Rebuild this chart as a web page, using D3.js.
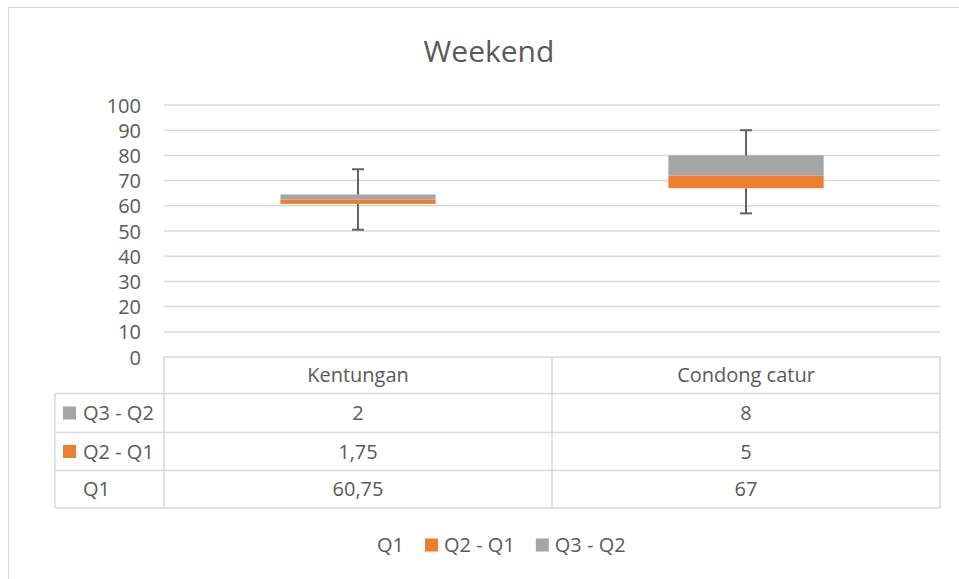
<!DOCTYPE html>
<html>
<head>
<meta charset="utf-8">
<script src="https://cdn.jsdelivr.net/npm/d3@7"></script>
<style>
  html, body { margin: 0; padding: 0; background: #fff; }
  svg { display: block; font-family: "Open Sans", sans-serif; }
</style>
</head>
<body>
<svg id="chart" width="959" height="579"></svg>
<script>
// Box plot built as stacked columns: Q1 (hidden), Q2 - Q1, Q3 - Q2
const categories = ["Kentungan", "Condong catur"];
const q1 = [60.75, 67];
const q2MinusQ1 = [1.75, 5];
const q3MinusQ2 = [2, 8];
const minimum = [50.5, 57];
const maximum = [74.5, 90];
const yTicks = [0, 10, 20, 30, 40, 50, 60, 70, 80, 90, 100];
const seriesNames = ["Q1", "Q2 - Q1", "Q3 - Q2"];
const seriesColors = { "Q1": "none", "Q2 - Q1": "#ED7D31", "Q3 - Q2": "#A5A5A5" };

const fmt = v => String(v).replace(".", ",");

const svg = d3.select("#chart");
const textColor = "#595959";
const lineColor = "#D9D9D9";
const fontSize = 20;

// chart frame
svg.append("rect")
  .attr("x", 8.5).attr("y", 7.5)
  .attr("width", 980).attr("height", 600)
  .attr("fill", "#fff").attr("stroke", lineColor).attr("stroke-width", 1);

// title
svg.append("text")
  .attr("x", 489).attr("y", 62)
  .attr("text-anchor", "middle")
  .attr("font-size", 30)
  .attr("fill", textColor)
  .text("Weekend");

const plotLeft = 164, plotRight = 940, plotTop = 105, plotBottom = 357;

const x = d3.scaleBand().domain(categories).range([plotLeft, plotRight]).padding(0);
const y = d3.scaleLinear().domain([0, 100]).range([plotBottom, plotTop]);

// gridlines
svg.append("g").selectAll("line")
  .data(yTicks.filter(t => t > 0))
  .join("line")
  .attr("x1", plotLeft).attr("x2", plotRight)
  .attr("y1", d => y(d)).attr("y2", d => y(d))
  .attr("stroke", lineColor).attr("stroke-width", 1.5);

// y axis labels
const yAxis = d3.axisLeft(y).tickValues(yTicks).tickSize(0).tickPadding(0);
const yg = svg.append("g").attr("transform", `translate(141,0)`).call(yAxis);
yg.select(".domain").remove();
yg.selectAll("text")
  .attr("font-family", "Open Sans, sans-serif")
  .attr("font-size", fontSize)
  .attr("fill", textColor)
  .attr("dy", "0.35em");

// stacked series
const rows = categories.map((c, i) => ({
  cat: c, "Q1": q1[i], "Q2 - Q1": q2MinusQ1[i], "Q3 - Q2": q3MinusQ2[i],
  min: minimum[i], max: maximum[i]
}));
const stack = d3.stack().keys(seriesNames)(rows);
const barW = x.bandwidth() * 0.4;

svg.append("g").selectAll("g")
  .data(stack.filter(s => seriesColors[s.key] !== "none"))
  .join("g")
  .attr("fill", s => seriesColors[s.key])
  .selectAll("rect")
  .data(s => s)
  .join("rect")
  .attr("x", d => x(d.data.cat) + (x.bandwidth() - barW) / 2)
  .attr("width", barW)
  .attr("y", d => y(d[1]))
  .attr("height", d => y(d[0]) - y(d[1]));

// whiskers (error bars to min and max)
const whiskerColor = "#636363";
const capW = 12;
const wg = svg.append("g").attr("stroke", whiskerColor).attr("stroke-width", 2);
rows.forEach(r => {
  const cx = x(r.cat) + x.bandwidth() / 2;
  const lowTop = r["Q1"];
  const highBase = r["Q1"] + r["Q2 - Q1"] + r["Q3 - Q2"];
  wg.append("line").attr("x1", cx).attr("x2", cx).attr("y1", y(r.min)).attr("y2", y(lowTop));
  wg.append("line").attr("x1", cx).attr("x2", cx).attr("y1", y(highBase)).attr("y2", y(r.max));
  wg.append("line").attr("x1", cx - capW / 2).attr("x2", cx + capW / 2).attr("y1", y(r.min)).attr("y2", y(r.min));
  wg.append("line").attr("x1", cx - capW / 2).attr("x2", cx + capW / 2).attr("y1", y(r.max)).attr("y2", y(r.max));
});

// data table
const tableLeft = 55;
const rowEdges = [357, 393.5, 432.5, 470.5, 508];
const tableRows = [
  { name: "Q3 - Q2", values: q3MinusQ2 },
  { name: "Q2 - Q1", values: q2MinusQ1 },
  { name: "Q1", values: q1 }
];
const tg = svg.append("g");
const tl = (x1, y1, x2, y2) => tg.append("line")
  .attr("x1", x1).attr("y1", y1).attr("x2", x2).attr("y2", y2)
  .attr("stroke", lineColor).attr("stroke-width", 1.5);

tl(plotLeft, rowEdges[0], plotRight, rowEdges[0]);
for (let i = 1; i < rowEdges.length; i++) tl(tableLeft, rowEdges[i], plotRight, rowEdges[i]);
tl(tableLeft, rowEdges[1], tableLeft, rowEdges[4]);
[plotLeft, x(categories[1]), plotRight].forEach(xx => tl(xx, rowEdges[0], xx, rowEdges[4]));

// header row with category names
tg.selectAll("text.cat")
  .data(categories)
  .join("text")
  .attr("class", "cat")
  .attr("x", d => x(d) + x.bandwidth() / 2)
  .attr("y", (rowEdges[0] + rowEdges[1]) / 2)
  .attr("dy", "0.35em")
  .attr("text-anchor", "middle")
  .attr("font-size", fontSize)
  .attr("fill", textColor)
  .text(d => d);

tableRows.forEach((tr, i) => {
  const cy = (rowEdges[i + 1] + rowEdges[i + 2]) / 2;
  const col = seriesColors[tr.name];
  if (col !== "none") {
    tg.append("rect").attr("x", 63).attr("y", cy - 6.5).attr("width", 13).attr("height", 13).attr("fill", col);
  }
  tg.append("text")
    .attr("x", 83).attr("y", cy).attr("dy", "0.35em")
    .attr("font-size", fontSize).attr("fill", textColor)
    .text(tr.name);
  tr.values.forEach((v, j) => {
    tg.append("text")
      .attr("x", x(categories[j]) + x.bandwidth() / 2)
      .attr("y", cy).attr("dy", "0.35em")
      .attr("text-anchor", "middle")
      .attr("font-size", fontSize).attr("fill", textColor)
      .text(fmt(v));
  });
});

// legend
const legend = svg.append("g");
let lx = 377;
const ly = 545;
seriesNames.forEach(name => {
  const col = seriesColors[name];
  if (col !== "none") {
    legend.append("rect").attr("x", lx).attr("y", ly - 6.5).attr("width", 13).attr("height", 13).attr("fill", col);
    lx += 19;
  }
  const t = legend.append("text")
    .attr("x", lx).attr("y", ly).attr("dy", "0.35em")
    .attr("font-size", fontSize).attr("fill", textColor)
    .text(name);
  lx += t.node().getComputedTextLength() + 21;
});
</script>
</body>
</html>
